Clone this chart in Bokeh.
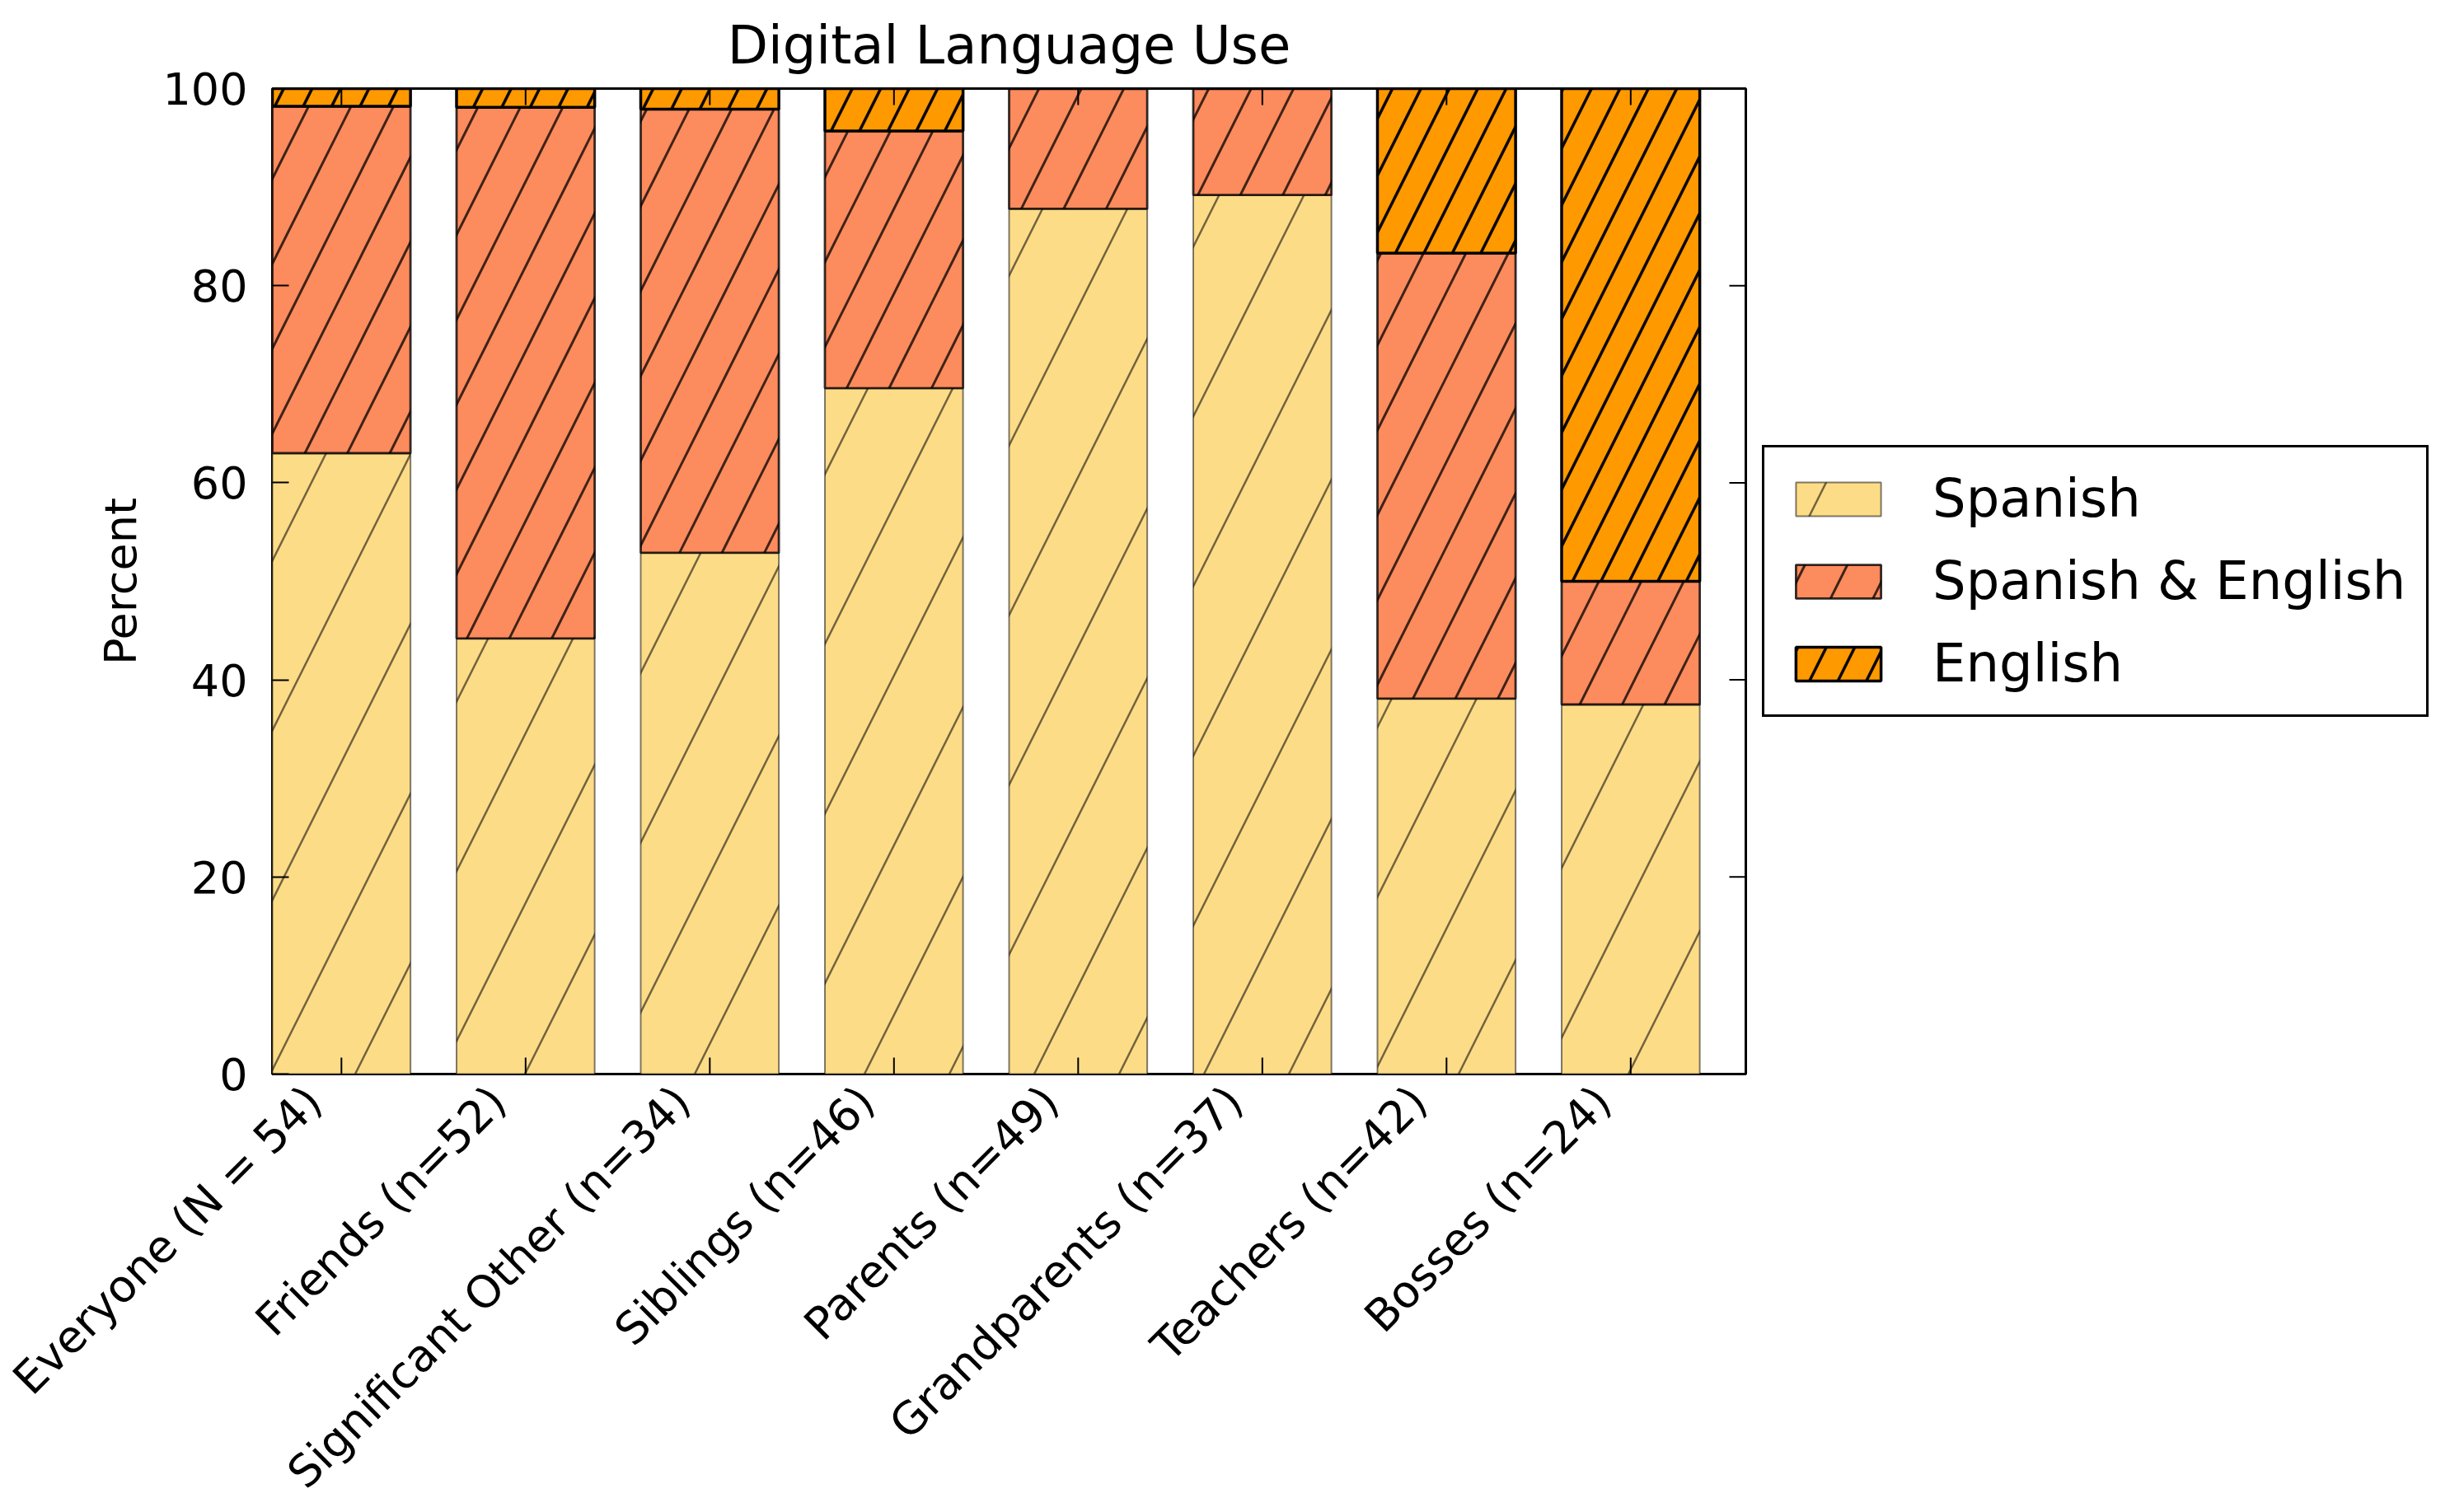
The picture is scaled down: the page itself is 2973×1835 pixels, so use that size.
import numpy as np
from math import pi
from bokeh.plotting import figure
from bokeh.models import (Range1d, FixedTicker, Legend, LegendItem, ColumnDataSource)
from bokeh.embed import file_html
from bokeh.resources import INLINE

# ---- data ----
categories = ["Everyone (N = 54)", "Friends (n=52)", "Significant Other (n=34)",
              "Siblings (n=46)", "Parents (n=49)", "Grandparents (n=37)",
              "Teachers (n=42)", "Bosses (n=24)"]
spanish = [63.0, 44.2, 52.9, 69.6, 87.8, 89.2, 38.1, 37.5]
spanish_english = [35.2, 53.9, 45.0, 26.1, 12.2, 10.8, 45.2, 12.5]
english = [1.8, 1.9, 2.1, 4.3, 0.0, 0.0, 16.7, 50.0]
series_names = ["Spanish", "Spanish & English", "English"]
y_ticks = [0, 20, 40, 60, 80, 100]

# ---- styling ----
fills = ["#FDDC88", "#FC8B5D", "#FF9900"]
hatch_scales = [206, 103, 69]
hatch_alphas = [0.55, 0.75, 0.95]
hatch_weights = [2.5, 3.0, 3.6]
edge_alphas = [0.5, 0.8, 1.0]
edge_widths = [2.0, 2.8, 3.5]
FONT = "DejaVu Sans"
BAR_W = 0.75
LABEL_SHIFT = 0.15   # matplotlib-like right alignment of rotated labels
TICK_LEN = 20

n = len(categories)
centers = np.arange(n) + BAR_W / 2
s = np.array(spanish)
se = np.array(spanish_english)
en = np.array(english)
bottoms = [np.zeros(n), s, s + se]
tops = [s, s + se, s + se + en]

p = figure(frame_width=1788, frame_height=1196,
           x_range=Range1d(0, n), y_range=Range1d(0, 100),
           output_backend="svg", toolbar_location=None,
           min_border_left=330, min_border_right=0,
           min_border_top=106, min_border_bottom=500,
           background_fill_color="white", border_fill_color="white")
p.grid.visible = False
p.outline_line_color = "black"
p.outline_line_width = 3

renderers = []
for i in range(3):
    src = ColumnDataSource(dict(x=centers, bottom=bottoms[i], top=tops[i]))
    r = p.vbar(x="x", width=BAR_W, bottom="bottom", top="top", source=src,
               fill_color=fills[i], line_color="black",
               line_alpha=edge_alphas[i], line_width=edge_widths[i],
               hatch_pattern="/", hatch_color="black",
               hatch_alpha=hatch_alphas[i], hatch_scale=hatch_scales[i],
               hatch_weight=hatch_weights[i])
    renderers.append(r)

# inward tick marks on all four sides (matplotlib classic look)
p.ray(x=centers, y=[0] * n, length=TICK_LEN, length_units="screen", angle=pi / 2,
      line_color="black", line_width=2)
p.ray(x=centers, y=[100] * n, length=TICK_LEN, length_units="screen", angle=-pi / 2,
      line_color="black", line_width=2)
p.ray(x=[n] * len(y_ticks), y=y_ticks, length=TICK_LEN, length_units="screen", angle=pi,
      line_color="black", line_width=2)

# title
p.title.text = "Digital Language Use"
p.title.align = "center"
p.title.text_font = FONT
p.title.text_font_size = "64px"
p.title.text_font_style = "normal"
p.title.text_color = "black"
p.title.standoff = 31

# x axis (labels only; tick marks drawn above)
label_pos = centers - LABEL_SHIFT
p.xaxis.ticker = FixedTicker(ticks=list(label_pos))
p.xaxis.major_label_overrides = {float(c): lab for c, lab in zip(label_pos, categories)}
p.xaxis.major_label_orientation = pi / 4
p.xaxis.major_label_text_font = FONT
p.xaxis.major_label_text_font_size = "54px"
p.xaxis.major_label_text_color = "black"
p.xaxis.major_label_standoff = 24
p.xaxis.major_tick_line_color = None
p.xaxis.major_tick_in = 0
p.xaxis.major_tick_out = 0
p.xaxis.minor_tick_line_color = None
p.xaxis.axis_line_color = None

# y axis
p.yaxis.ticker = FixedTicker(ticks=y_ticks)
p.yaxis.axis_label = "Percent"
p.yaxis.axis_label_text_font = FONT
p.yaxis.axis_label_text_font_size = "54px"
p.yaxis.axis_label_text_font_style = "normal"
p.yaxis.axis_label_text_color = "black"
p.yaxis.axis_label_standoff = 16
p.yaxis.major_label_text_font = FONT
p.yaxis.major_label_text_font_size = "54px"
p.yaxis.major_label_text_color = "black"
p.yaxis.major_label_standoff = 30
p.yaxis.major_tick_in = TICK_LEN
p.yaxis.major_tick_out = 0
p.yaxis.major_tick_line_width = 2
p.yaxis.minor_tick_line_color = None
p.yaxis.axis_line_color = None

# legend
items = [LegendItem(label=name, renderers=[r]) for name, r in zip(series_names, renderers)]
legend = Legend(items=items, location="left",
                label_text_font=FONT, label_text_font_size="64px",
                label_text_color="black",
                glyph_width=129, glyph_height=51, label_standoff=50,
                padding=25, spacing=26, margin=20,
                border_line_color="black", border_line_width=3, border_line_alpha=1.0,
                background_fill_color="white", background_fill_alpha=1.0)
p.add_layout(legend, "right")

open("out.html", "w").write(file_html(p, INLINE))
